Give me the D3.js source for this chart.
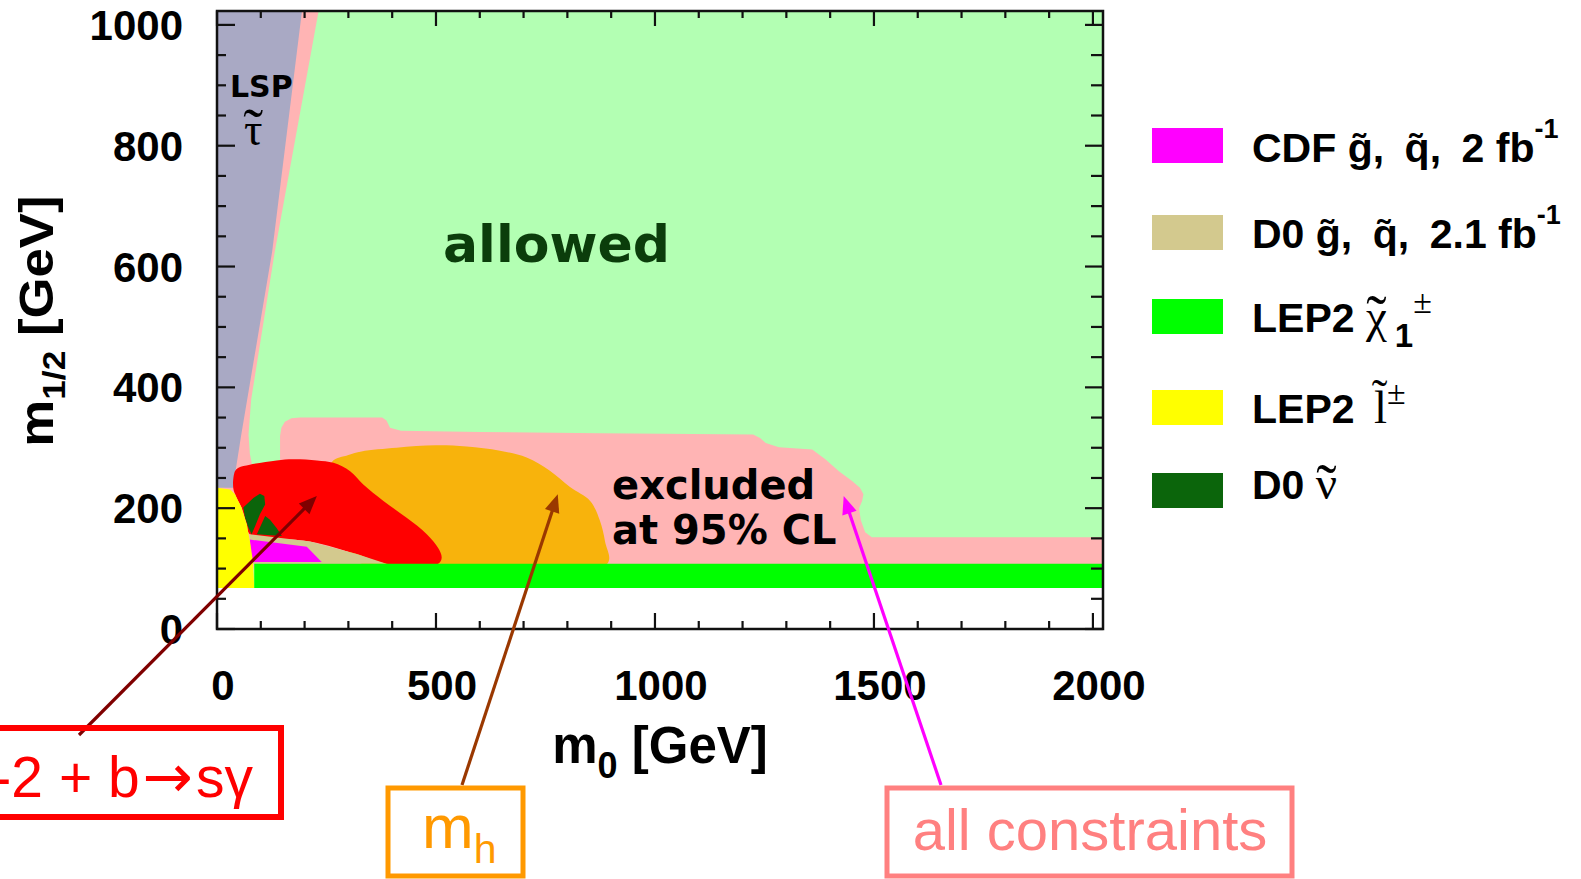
<!DOCTYPE html>
<html>
<head>
<meta charset="utf-8">
<script src="https://cdn.jsdelivr.net/npm/d3@7"></script>
<style>
  html, body { margin: 0; padding: 0; background: #fff; overflow: hidden; }
  svg { display: block; }
</style>
</head>
<body>
<svg id="chart" width="1581" height="879"></svg>
<script>
// ---- axes -------------------------------------------------------------
const xDomain = [0, 2023];          // m0 [GeV]
const yDomain = [0, 1023];          // m1/2 [GeV]
const xTickLabels = [0, 500, 1000, 1500, 2000];
const yTickLabels = [0, 200, 400, 600, 800, 1000];
const xMinorTicks = d3.range(0, 2001, 100);
const yMinorTicks = d3.range(0, 1001, 50);

// ---- regions of the (m0, m1/2) plane, as [m0, m1/2] vertices ----------
const allowedRegion = [[0, 68], [2023, 68], [2023, 1023], [0, 1023]];
const excludedAll = [
  [0, 1023], [232, 1023], [132, 625], [78, 380], [72, 322], [75, 290], [80, 272],
  [144, 270], [144, 320], [147, 333], [155, 343], [170, 349], [190, 350],
  [377, 350], [387, 345], [395, 333], [420, 328], [600, 326], [874, 324],
  [1224, 322], [1240, 316], [1253, 308], [1283, 301], [1359, 297], [1389, 281],
  [1420, 261], [1450, 245], [1468, 234], [1476, 223], [1473, 212], [1466, 200],
  [1470, 180], [1480, 160], [1495, 152], [2023, 152], [2023, 100], [0, 100]
];
const lspStau = [[0, 1023], [194, 1023], [126, 625], [55, 320], [42, 260], [37, 234], [0, 234]];
const higgsMass = [
  [262, 276], [300, 288], [330, 294], [410, 300], [500, 304], [570, 302],
  [646, 295], [707, 284], [760, 262], [806, 235], [852, 212], [874, 180],
  [886, 145], [891, 108], [330, 108], [262, 200]
];
const gm2bsg = [
  [41, 261], [49, 267], [75, 272], [136, 279], [174, 281], [228, 279], [266, 275],
  [304, 261], [334, 239], [380, 212], [433, 184], [479, 157], [505, 134],
  [513, 118], [505, 108], [387, 108], [319, 124], [212, 145], [75, 157],
  [68, 173], [56, 201], [45, 217], [37, 234]
];
const d0Squark = [[75, 157], [212, 145], [319, 124], [387, 108], [75, 108]];
const cdfSquark = [[75, 148], [205, 136], [239, 111], [79, 111]];
const d0SneutrinoA = [
  [60, 201], [83, 217], [98, 224], [108, 220], [110, 206], [98, 190],
  [87, 170], [79, 157], [72, 167], [64, 184]
];
const d0SneutrinoB = [[91, 157], [110, 187], [121, 181], [136, 167], [148, 154]];
const lep2Slepton = [
  [0, 234], [30, 231], [41, 223], [56, 201], [68, 173], [75, 146], [82, 113], [85, 68], [0, 68]
];
const lep2Chargino = [[85, 68], [2023, 68], [2023, 108], [85, 108]];

// points the call-out arrows aim at, [m0, m1/2]
const arrowTargets = [[228, 220], [778, 223], [1431, 220]];

// ---- legend -----------------------------------------------------------
// each entry: [text, kind]; "~" tilde over a sans letter, "~s" over a serif
// latin letter, "~g" over a greek letter, "^" superscript, "^s" serif
// superscript, "_" subscript
const legendText = [
  [["CDF "], ["g", "~"], [",\u2002"], ["q", "~"], [",\u20022 fb"], ["-1", "^"]],
  [["D0 "], ["g", "~"], [",\u2002"], ["q", "~"], [",\u20022.1 fb"], ["-1", "^"]],
  [["LEP2 "], ["χ", "~g"], ["1", "_"], ["±", "^s"]],
  [["LEP2 "], ["l", "~s"], ["±", "^s"]],
  [["D0 "], ["ν", "~g"]]
];
const legendColors = ["#ff00ff", "#d3c98e", "#00ff00", "#ffff00", "#0b650b"];

// ---- drawing ----------------------------------------------------------
const SANS = "'Liberation Sans', Arial, Helvetica, sans-serif";
const SERIF = "'Liberation Serif', 'Times New Roman', serif";
const DEJAVU = "'DejaVu Sans', Verdana, sans-serif";
const TILDE = "\u0303";

const plot = { left: 217, right: 1103, top: 11, bottom: 629 };
const svg = d3.select("#chart");
const x = d3.scaleLinear().domain(xDomain).range([plot.left, plot.right]);
const y = d3.scaleLinear().domain(yDomain).range([plot.bottom, plot.top]);

svg.append("defs").append("clipPath").attr("id", "plotClip")
  .append("rect").attr("x", plot.left).attr("y", plot.top)
  .attr("width", plot.right - plot.left).attr("height", plot.bottom - plot.top);

const polyLinear = d3.line().x(d => x(d[0])).y(d => y(d[1])).curve(d3.curveLinearClosed);
const polySmooth = d3.line().x(d => x(d[0])).y(d => y(d[1])).curve(d3.curveCatmullRomClosed.alpha(0.5));

const regions = [
  { pts: allowedRegion, fill: "#b3ffb3", line: polyLinear },
  { pts: excludedAll, fill: "#ffb4b4", line: polyLinear },
  { pts: lspStau, fill: "#a9a9c4", line: polyLinear },
  { pts: higgsMass, fill: "#f8b30c", line: polySmooth },
  { pts: gm2bsg, fill: "#ff0000", line: polySmooth },
  { pts: d0Squark, fill: "#d3c98e", line: polyLinear },
  { pts: cdfSquark, fill: "#ff00ff", line: polyLinear },
  { pts: d0SneutrinoA, fill: "#0b650b", line: polyLinear },
  { pts: d0SneutrinoB, fill: "#0b650b", line: polyLinear },
  { pts: lep2Slepton, fill: "#ffff00", line: polyLinear },
  { pts: lep2Chargino, fill: "#00ff00", line: polyLinear }
];

const gRegions = svg.append("g").attr("clip-path", "url(#plotClip)");
regions.forEach(r => {
  gRegions.append("path").attr("d", r.line(r.pts)).attr("fill", r.fill).attr("stroke", "none");
});

// greek letter with a spacing tilde centred over it, inside one <text>;
// returns the advance still owed so following text sits after the letter
const tildeLift = { "χ": 29, "ν": 27, "τ": 31 };
function greekWithTilde(t, letter, base, size) {
  const a = t.append("tspan").attr("y", base).attr("font-family", SERIF)
    .attr("font-weight", "normal").attr("font-size", size).text(letter);
  const wL = a.node().getComputedTextLength();
  const tSize = size * 1.3;
  const b = t.append("tspan").attr("font-family", SERIF).attr("font-weight", "normal")
    .attr("font-size", tSize).attr("y", base + 0.58 * tSize - tildeLift[letter]).text("\u02DC");
  const wT = b.node().getComputedTextLength();
  b.attr("dx", -(wL + wT) / 2);
  return (wL - wT) / 2;
}

// in-plot labels
svg.append("text").attr("x", 443).attr("y", 262)
  .attr("font-family", DEJAVU).attr("font-weight", "bold").attr("font-size", 52)
  .attr("fill", "#0b3d0b").text("allowed");
svg.append("text").attr("x", 612).attr("y", 499)
  .attr("font-family", DEJAVU).attr("font-weight", "bold").attr("font-size", 40)
  .attr("fill", "#000").text("excluded");
svg.append("text").attr("x", 612).attr("y", 544)
  .attr("font-family", DEJAVU).attr("font-weight", "bold").attr("font-size", 40)
  .attr("fill", "#000").text("at 95% CL");
svg.append("text").attr("x", 230).attr("y", 97)
  .attr("font-family", DEJAVU).attr("font-weight", "bold").attr("font-size", 30)
  .attr("fill", "#000").text("LSP");
const tau = svg.append("text").attr("x", 244).attr("y", 145).attr("fill", "#000");
greekWithTilde(tau, "τ", 145, 46);

// frame
svg.append("rect").attr("x", plot.left).attr("y", plot.top)
  .attr("width", plot.right - plot.left).attr("height", plot.bottom - plot.top)
  .attr("fill", "none").attr("stroke", "#111").attr("stroke-width", 2.5);

// ticks on all four sides, pointing inward
const gTicks = svg.append("g").attr("stroke", "#111").attr("stroke-width", 2.2);
xMinorTicks.forEach(v => {
  const major = v % 500 === 0;
  const px = x(v);
  gTicks.append("line").attr("x1", px).attr("x2", px)
    .attr("y1", plot.bottom).attr("y2", plot.bottom - (major ? 16 : 8));
  gTicks.append("line").attr("x1", px).attr("x2", px)
    .attr("y1", plot.top).attr("y2", plot.top + (major ? 15 : 7));
});
yMinorTicks.forEach(v => {
  const major = v % 200 === 0;
  const py = y(v);
  gTicks.append("line").attr("y1", py).attr("y2", py)
    .attr("x1", plot.left).attr("x2", plot.left + (major ? 18 : 9));
  gTicks.append("line").attr("y1", py).attr("y2", py)
    .attr("x1", plot.right).attr("x2", plot.right - (major ? 18 : 12));
});

// tick labels
svg.append("g").selectAll("text").data(xTickLabels).join("text")
  .attr("x", d => x(d) + 6).attr("y", 700).attr("text-anchor", "middle")
  .attr("font-family", SANS).attr("font-weight", "bold").attr("font-size", 42)
  .attr("fill", "#000").text(d => d);
svg.append("g").selectAll("text").data(yTickLabels).join("text")
  .attr("x", 183).attr("y", d => y(d) + 15).attr("text-anchor", "end")
  .attr("font-family", SANS).attr("font-weight", "bold").attr("font-size", 42)
  .attr("fill", "#000").text(d => d);

// axis titles
const xTitle = svg.append("text").attr("x", 660).attr("y", 763).attr("text-anchor", "middle")
  .attr("font-family", SANS).attr("font-weight", "bold").attr("font-size", 51).attr("fill", "#000");
xTitle.append("tspan").text("m");
xTitle.append("tspan").attr("dy", 15).attr("font-size", 36).text("0");
xTitle.append("tspan").attr("dy", -15).text(" [GeV]");

const yTitle = svg.append("text").attr("transform", "translate(53,321) rotate(-90) scale(1.1,1)")
  .attr("text-anchor", "middle")
  .attr("font-family", SANS).attr("font-weight", "bold").attr("font-size", 48).attr("fill", "#000");
yTitle.append("tspan").text("m");
yTitle.append("tspan").attr("dy", 12).attr("font-size", 32).text("1/2");
yTitle.append("tspan").attr("dy", -12).text(" [GeV]");

// legend
const legX = 1152, legTextX = 1252;
const legTops = [128, 215, 299, 390, 473];
const legBase = [162, 248, 332, 423, 499];
const extraBefore = { l: 8, "ν": 2, "χ": 2, "1": 8 };
const gLeg = svg.append("g");
legendText.forEach((parts, i) => {
  gLeg.append("rect").attr("x", legX).attr("y", legTops[i]).attr("width", 71).attr("height", 35)
    .attr("fill", legendColors[i]);
  const base = legBase[i];
  const t = gLeg.append("text").attr("x", legTextX).attr("y", base)
    .attr("font-family", SANS).attr("font-weight", "bold").attr("font-size", 41).attr("fill", "#000");
  let pending = 0;
  parts.forEach(([s, kind]) => {
    const before = pending + (extraBefore[s] || 0);
    pending = 0;
    if (kind === "~g") {
      t.append("tspan").attr("y", base).attr("dx", before || null).text("");
      pending = greekWithTilde(t, s, base, 47);
      return;
    }
    const sp = t.append("tspan");
    if (!kind) sp.attr("y", base).text(s);
    else if (kind === "~") sp.attr("y", base).text(s + TILDE);
    else if (kind === "~s") sp.attr("y", base).attr("font-family", SERIF).attr("font-weight", "normal")
      .attr("font-size", 47).text(s + TILDE);
    else if (kind === "^") sp.attr("y", base - 24).attr("font-size", 27).text(s);
    else if (kind === "^s") sp.attr("y", base - 19).attr("font-family", SERIF)
      .attr("font-weight", "normal").attr("font-size", 34).text(s);
    else if (kind === "_") sp.attr("y", base + 15).attr("font-size", 33).text(s);
    if (before) sp.attr("dx", before);
  });
});

// call-out arrows and boxes
function arrow(x1, y1, x2, y2, color) {
  const dx = x2 - x1, dy = y2 - y1, len = Math.hypot(dx, dy);
  const ux = dx / len, uy = dy / len, hl = 18, hw = 7.5;
  const bx = x2 - ux * hl, by = y2 - uy * hl;
  svg.append("line").attr("x1", x1).attr("y1", y1).attr("x2", bx + ux * 2).attr("y2", by + uy * 2)
    .attr("stroke", color).attr("stroke-width", 3.2);
  svg.append("path")
    .attr("d", `M${x2},${y2}L${bx - uy * hw},${by + ux * hw}L${bx + uy * hw},${by - ux * hw}Z`)
    .attr("fill", color);
}
arrow(79, 735, x(arrowTargets[0][0]), y(arrowTargets[0][1]), "#7f0000");
arrow(462, 785, x(arrowTargets[1][0]), y(arrowTargets[1][1]), "#9a3800");
arrow(941, 785, x(arrowTargets[2][0]), y(arrowTargets[2][1]), "#ff00ff");

svg.append("rect").attr("x", -20).attr("y", 728).attr("width", 301).attr("height", 89)
  .attr("fill", "none").attr("stroke", "#ff0000").attr("stroke-width", 6);
const bsg = svg.append("text").attr("x", 253).attr("y", 797).attr("text-anchor", "end")
  .attr("font-family", SANS).attr("font-size", 57).attr("fill", "#ff0000");
bsg.append("tspan").text("g-2 + b");
bsg.append("tspan").attr("font-family", DEJAVU).attr("font-size", 60).attr("dx", 3).text("→");
bsg.append("tspan").attr("dx", 3).text("sγ");

svg.append("rect").attr("x", 388).attr("y", 788).attr("width", 135).attr("height", 88)
  .attr("fill", "none").attr("stroke", "#ff9900").attr("stroke-width", 5);
const mh = svg.append("text").attr("x", 422).attr("y", 848)
  .attr("font-family", SANS).attr("font-size", 62).attr("fill", "#ff9900");
mh.append("tspan").text("m");
mh.append("tspan").attr("y", 863).attr("font-size", 41).text("h");

svg.append("rect").attr("x", 887).attr("y", 788).attr("width", 405).attr("height", 88)
  .attr("fill", "none").attr("stroke", "#ff8080").attr("stroke-width", 5);
svg.append("text").attr("x", 1090).attr("y", 850).attr("text-anchor", "middle")
  .attr("font-family", SANS).attr("font-size", 58).attr("fill", "#ff8080").text("all constraints");
</script>
</body>
</html>
